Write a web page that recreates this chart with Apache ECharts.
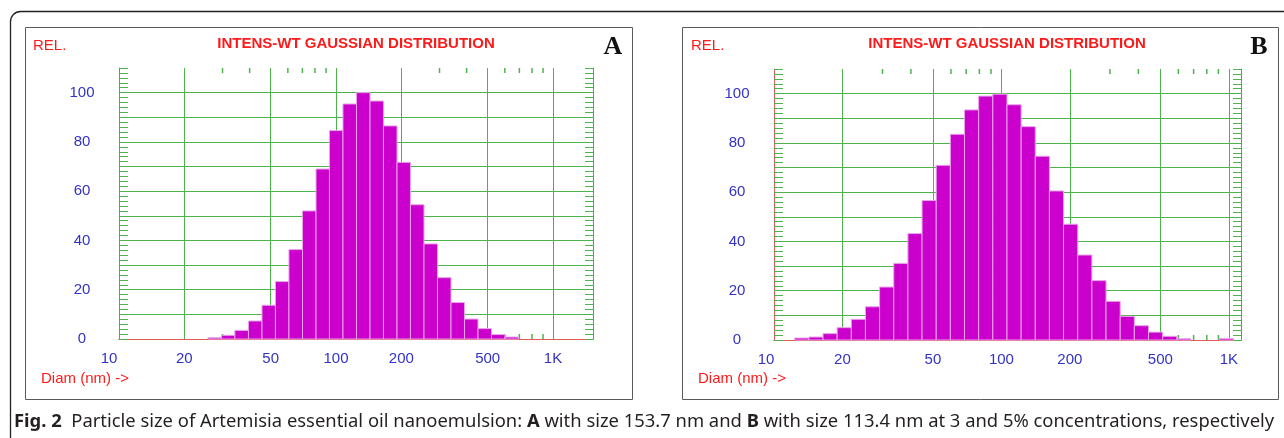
<!DOCTYPE html>
<html>
<head>
<meta charset="utf-8">
<script src="https://cdn.jsdelivr.net/npm/echarts@6/dist/echarts.min.js"></script>
<style>
  html, body { margin: 0; padding: 0; background: #fff; }
  #chart { width: 1284px; height: 438px; }
</style>
</head>
<body>
<div id="chart"></div>
<script>
// bin edges (nm) and relative intensities
const edgesA = [25.7, 29.7, 34.2, 39.5, 45.6, 52.6, 60.7, 70.1, 80.9, 93.3, 107.7, 124.3,
  143.5, 165.5, 191.1, 220.4, 254.4, 293.6, 338.8, 391.0, 451.2, 520.7, 600.9, 693.4]
const valuesA = [0.5, 1.5, 3.5, 7.3, 13.7, 23.3, 36.3, 52, 69, 84.6, 95.4, 100,
  96.6, 86.5, 71.7, 54.5, 38.6, 24.9, 14.8, 8.1, 4.2, 1.8, 0.8]

const edgesB = [12.33, 14.23, 16.43, 18.95, 21.88, 25.24, 29.13, 33.62, 38.80, 44.77, 51.68,
  59.63, 68.81, 79.41, 91.67, 105.8, 122.1, 140.9, 162.6, 187.6, 216.5, 249.9, 288.4,
  332.9, 384.1, 443.3, 511.7, 590.4, 681.3, 786.3, 907.5, 1047]
const valuesB = [0.8, 1.2, 2.6, 5.0, 8.4, 13.5, 21.5, 31.1, 43.2, 56.6, 70.9, 83.5,
  93.4, 99.0, 99.8, 95.5, 86.6, 74.6, 60.5, 47.0, 34.5, 24.1, 15.7, 9.6, 5.8,
  3.2, 1.5, 0.5, 0, 0, 0.6]

const xMajor = [20, 50, 100, 200, 500, 1000]
const xLabels = [10, 20, 50, 100, 200, 500, 1000]
const xMinor = [30, 40, 60, 70, 80, 90, 300, 400, 600, 700, 800, 900]
const yLabels = [0, 20, 40, 60, 80, 100]
const Y_MAX = 110

const RED = '#ff1a1a'
const FRAME_RED = '#e25b5b'
const BLUE = '#3232c8'
const GREEN = '#4db34d'
const BAR = '#cc00cc'
const BAR_EDGE = '#e8a4e8'
const SANS = '"Liberation Sans", Arial, sans-serif'

const chart = echarts.init(document.getElementById('chart'), null, { renderer: 'canvas' })

function xAxesFor(gridIndex, max, tenShift) {
  const base = { type: 'log', logBase: 10, min: 10, max: max, gridIndex: gridIndex }
  return [
    {
      ...base,
      position: 'bottom',
      axisLine: { show: true, lineStyle: { color: FRAME_RED } },
      axisTick: { show: false, customValues: xMajor },
      splitLine: { show: true, lineStyle: { color: GREEN, width: 1 } },
      axisLabel: {
        customValues: xLabels,
        margin: 12,
        color: BLUE,
        fontSize: 15,
        fontFamily: SANS,
        formatter: v => v === 10 ? '{t|10}' : (v >= 1000 ? '1K' : String(v)),
        rich: { t: { color: BLUE, fontSize: 15, fontFamily: SANS, padding: [0, tenShift, 0, 0] } }
      }
    },
    {
      ...base,
      position: 'top',
      axisLine: { show: true, lineStyle: { color: FRAME_RED } },
      axisTick: { show: false },
      axisLabel: { show: false },
      splitLine: { show: false }
    }
  ]
}

function yAxesFor(gridIndex) {
  const base = { type: 'value', min: 0, max: Y_MAX, interval: 10, gridIndex: gridIndex }
  return [
    {
      ...base,
      position: 'left',
      axisLine: { show: true, lineStyle: { color: FRAME_RED } },
      axisTick: { show: true, inside: true, length: 9, lineStyle: { color: GREEN } },
      minorTick: { show: true, splitNumber: 5, length: 9, lineStyle: { color: GREEN } },
      splitLine: { show: true, showMinLine: false, showMaxLine: false, lineStyle: { color: GREEN } },
      axisLabel: {
        align: 'center',
        margin: 37,
        color: BLUE,
        fontSize: 15,
        fontFamily: SANS,
        formatter: v => yLabels.includes(v) ? String(v) : ''
      }
    },
    {
      ...base,
      position: 'right',
      axisLine: { show: true, lineStyle: { color: FRAME_RED } },
      axisTick: { show: true, inside: true, length: 8, lineStyle: { color: GREEN } },
      minorTick: { show: true, splitNumber: 5, length: 8, lineStyle: { color: GREEN } },
      splitLine: { show: false },
      axisLabel: { show: false }
    }
  ]
}

function renderBar(params, api) {
  const v = api.value(2)
  if (!(v > 0)) return null
  const p0 = api.coord([api.value(0), v])
  const p1 = api.coord([api.value(1), 0])
  return {
    type: 'rect',
    shape: { x: p0[0], y: p0[1], width: p1[0] - p0[0], height: p1[1] - p0[1] },
    style: { fill: BAR, stroke: BAR_EDGE, lineWidth: 1 }
  }
}

// short inside ticks on the bottom and top edges of the log axis
function renderMinorTick(params, api) {
  const b = api.coord([api.value(0), 0])
  const t = api.coord([api.value(0), Y_MAX])
  const style = { stroke: GREEN, lineWidth: 1.5 }
  return {
    type: 'group',
    children: [
      { type: 'line', shape: { x1: b[0], y1: b[1], x2: b[0], y2: b[1] - 5 }, style },
      { type: 'line', shape: { x1: t[0], y1: t[1], x2: t[0], y2: t[1] + 5 }, style }
    ]
  }
}

function barData(edges, values) {
  return values.map((v, i) => [edges[i], edges[i + 1], v])
}

function tickData(values) {
  return values.map(v => [v, 0])
}

function panelTexts(frameX, frameW, relX, titleX, letterX, letter, diamX) {
  return [
    { type: 'rect', shape: { x: frameX + 0.5, y: 27.5, width: frameW, height: 372 },
      style: { fill: '#fff', stroke: '#5a5a5a', lineWidth: 1 }, z: -10 },
    { type: 'text', x: relX, y: 46, style: { text: 'REL.', fill: RED, font: '15px ' + SANS, verticalAlign: 'middle' } },
    { type: 'text', x: titleX, y: 44, style: { text: 'INTENS-WT GAUSSIAN DISTRIBUTION', fill: RED,
      font: 'bold 15px ' + SANS, align: 'center', verticalAlign: 'middle' } },
    { type: 'text', x: letterX, y: 47, style: { text: letter, fill: '#111',
      font: 'bold 26px "Liberation Serif", "Times New Roman", serif', align: 'center', verticalAlign: 'middle' } },
    { type: 'text', x: diamX, y: 379, style: { text: 'Diam (nm) ->', fill: RED, font: '15px ' + SANS, verticalAlign: 'middle' } }
  ]
}

const option = {
  animation: false,
  backgroundColor: '#fff',
  grid: [
    { left: 119, top: 68, width: 474, height: 271, show: false },
    { left: 774, top: 69, width: 467, height: 271, show: false }
  ],
  xAxis: [...xAxesFor(0, 1529, 20), ...xAxesFor(1, 1131, 16)],
  yAxis: [...yAxesFor(0), ...yAxesFor(1)],
  series: [
    { type: 'custom', xAxisIndex: 0, yAxisIndex: 0, renderItem: renderMinorTick,
      encode: { x: 0, y: 1 }, data: tickData(xMinor), z: 1, silent: true },
    { type: 'custom', xAxisIndex: 2, yAxisIndex: 2, renderItem: renderMinorTick,
      encode: { x: 0, y: 1 }, data: tickData(xMinor), z: 1, silent: true },
    { type: 'custom', xAxisIndex: 0, yAxisIndex: 0, renderItem: renderBar,
      encode: { x: [0, 1], y: 2 }, data: barData(edgesA, valuesA), z: 5 },
    { type: 'custom', xAxisIndex: 2, yAxisIndex: 2, renderItem: renderBar,
      encode: { x: [0, 1], y: 2 }, data: barData(edgesB, valuesB), z: 5 }
  ],
  graphic: [
    { type: 'rect', shape: { x: 10.5, y: 11.5, width: 1300, height: 480, r: 10 },
      style: { fill: 'none', stroke: '#222', lineWidth: 1.3 }, z: -20 },
    ...panelTexts(25, 607, 33, 356, 613, 'A', 41),
    ...panelTexts(682, 596, 691, 1007, 1259, 'B', 698),
    { type: 'text', x: 14, y: 422, style: {
      text: '{b|Fig. 2}  Particle size of Artemisia essential oil nanoemulsion: {b|A} with size 153.7 nm and {b|B} with size 113.4 nm at 3 and 5% concentrations, respectively',
      fill: '#231f20', font: '18.4px "Noto Sans", sans-serif', verticalAlign: 'middle',
      rich: { b: { fontWeight: 'bold', fontSize: 18.4, fontFamily: '"Noto Sans", sans-serif', fill: '#231f20' } }
    } }
  ]
}

chart.setOption(option)
</script>
</body>
</html>
